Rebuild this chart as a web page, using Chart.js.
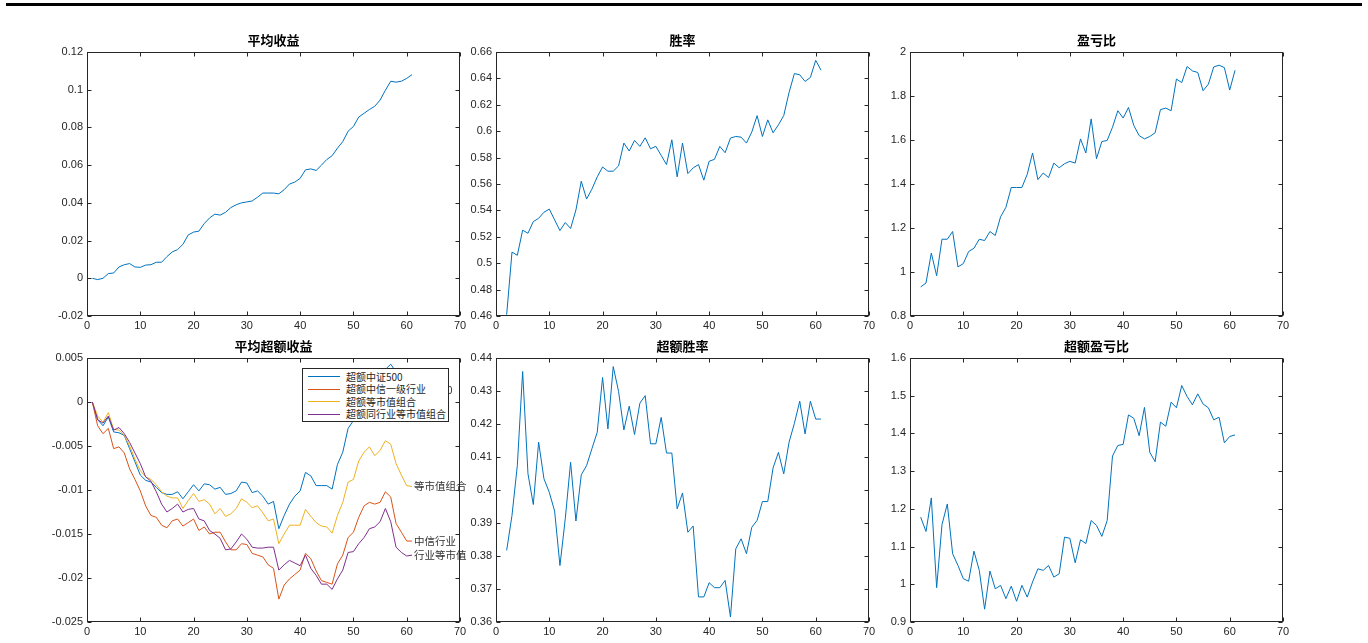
<!DOCTYPE html>
<html>
<head>
<meta charset="utf-8">
<script src="https://cdn.jsdelivr.net/npm/chart.js@4.4.1/dist/chart.umd.min.js"></script>
<style>
html,body{margin:0;padding:0;background:#fff;width:1368px;height:643px;overflow:hidden;position:relative}
canvas{position:absolute}
#topline{position:absolute;left:6px;top:3px;width:1356px;height:3px;background:#000}
#legend{position:absolute;left:302px;top:368px;width:145px;height:52px;border:1px solid #262626;background:#fff;font-family:"Noto Sans CJK SC","Liberation Sans",sans-serif;color:#262626}
#legend .ln{position:absolute;left:5px;width:32px;height:1px}
#legend .tx{position:absolute;left:43px;font-size:10px;line-height:14px;white-space:nowrap}
</style>
</head>
<body>
<div id="topline"></div>
<canvas id="c1" width="483" height="314" style="left:32px;top:24px"></canvas>
<canvas id="c2" width="483" height="314" style="left:441px;top:24px"></canvas>
<canvas id="c3" width="483" height="314" style="left:855px;top:24px"></canvas>
<canvas id="c4" width="483" height="314" style="left:32px;top:330px"></canvas>
<canvas id="c5" width="483" height="314" style="left:441px;top:330px"></canvas>
<canvas id="c6" width="483" height="314" style="left:855px;top:330px"></canvas>
<div id="legend"></div>
<script>
// ---------------- data ----------------
const periods = [1,2,3,4,5,6,7,8,9,10,11,12,13,14,15,16,17,18,19,20,21,22,23,24,25,26,27,28,29,30,
  31,32,33,34,35,36,37,38,39,40,41,42,43,44,45,46,47,48,49,50,51,52,53,54,55,56,57,58,59,60,61];
const periods2 = periods.slice(1);

const titles = ['平均收益','胜率','盈亏比','平均超额收益','超额胜率','超额盈亏比'];

const avgReturn = [0,-0.0007,0,0.0025,0.0028,0.006,0.0072,0.0078,0.006,0.0058,
  0.007,0.0072,0.0085,0.0085,0.0115,0.014,0.0152,0.018,0.023,0.0245,
  0.025,0.029,0.032,0.034,0.0335,0.035,0.0375,0.039,0.04,0.0405,
  0.041,0.043,0.0452,0.0452,0.0452,0.0448,0.047,0.05,0.051,0.053,
  0.0575,0.058,0.0572,0.06,0.063,0.065,0.069,0.0725,0.078,0.0805,
  0.0855,0.0875,0.0895,0.0912,0.0945,0.0997,0.1045,0.104,0.1045,0.106,
  0.108];

const winRate = [0.461,0.5084,0.506,0.525,0.5227,0.5315,0.534,0.5386,0.541,0.5328,
  0.5247,0.5308,0.5263,0.5403,0.5621,0.5486,0.5561,0.5654,0.5729,0.5697,
  0.5697,0.5737,0.591,0.585,0.593,0.5885,0.595,0.5867,0.5885,0.5817,
  0.5747,0.5935,0.5654,0.591,0.5679,0.5722,0.5747,0.5629,0.5772,0.5787,
  0.5885,0.5837,0.5948,0.596,0.5955,0.591,0.5993,0.6118,0.596,0.6086,
  0.5988,0.6048,0.6118,0.6294,0.6437,0.6427,0.6377,0.6407,0.6537,0.6462];

const plRatio = [0.932,0.95,1.086,0.983,1.149,1.149,1.184,1.023,1.038,1.093,
  1.108,1.149,1.143,1.184,1.166,1.251,1.294,1.384,1.384,1.384,
  1.444,1.541,1.42,1.45,1.429,1.495,1.474,1.492,1.503,1.495,
  1.605,1.541,1.696,1.515,1.593,1.598,1.658,1.733,1.7,1.748,
  1.666,1.62,1.605,1.616,1.633,1.738,1.745,1.733,1.877,1.861,
  1.934,1.914,1.907,1.824,1.854,1.932,1.94,1.929,1.827,1.917];

const exWinRate = [0.3817,0.3923,0.4074,0.4359,0.4049,0.3956,0.4145,0.4034,0.3993,0.3936,
  0.3771,0.3913,0.4084,0.3906,0.4046,0.4074,0.4125,0.4175,0.4341,0.4185,
  0.4374,0.4299,0.4182,0.4254,0.4168,0.4263,0.4286,0.414,0.414,0.422,
  0.4112,0.4112,0.3943,0.3991,0.3872,0.3891,0.3676,0.3676,0.3719,0.3704,
  0.3704,0.3726,0.3615,0.3822,0.3852,0.3807,0.3887,0.3908,0.3965,0.3965,
  0.4067,0.4114,0.4049,0.4145,0.4202,0.4269,0.417,0.4269,0.4215,0.4215];

const exPlRatio = [1.178,1.14,1.229,0.991,1.158,1.213,1.081,1.05,1.015,1.008,
  1.088,1.037,0.934,1.035,0.988,0.997,0.962,0.995,0.955,0.997,
  0.966,1.006,1.041,1.037,1.05,1.019,1.028,1.125,1.122,1.057,
  1.118,1.108,1.169,1.156,1.127,1.169,1.34,1.368,1.371,1.449,
  1.44,1.394,1.469,1.35,1.325,1.43,1.419,1.483,1.468,1.527,
  1.498,1.476,1.505,1.478,1.468,1.436,1.443,1.375,1.392,1.396];

const exCsi500 = [0,-0.002,-0.0027,-0.0017,-0.0034,-0.0035,-0.0038,-0.0053,-0.0068,-0.0083,
  -0.0089,-0.0091,-0.0097,-0.0103,-0.0105,-0.0105,-0.0102,-0.011,-0.0102,-0.0094,
  -0.0101,-0.0093,-0.0094,-0.0099,-0.0097,-0.0105,-0.0104,-0.0101,-0.0091,-0.0092,
  -0.0103,-0.0101,-0.0107,-0.0116,-0.0113,-0.0144,-0.0129,-0.0116,-0.0107,-0.0101,
  -0.008,-0.0084,-0.0095,-0.0095,-0.0095,-0.0099,-0.0071,-0.0057,-0.003,-0.0021,
  -0.001,0.0002,0.0012,0.0018,0.0027,0.0037,0.0043,0.0034,0.0024,0.0017,
  0.0014];
const exCiticInd = [0,-0.0027,-0.0036,-0.003,-0.0053,-0.0051,-0.0058,-0.0076,-0.0088,-0.0101,
  -0.0118,-0.0129,-0.0131,-0.014,-0.0143,-0.0135,-0.0133,-0.0141,-0.0137,-0.0133,
  -0.0146,-0.0142,-0.015,-0.0148,-0.0148,-0.0159,-0.0168,-0.0168,-0.0161,-0.0162,
  -0.0172,-0.0174,-0.0176,-0.0185,-0.0189,-0.0224,-0.0208,-0.0201,-0.0196,-0.0191,
  -0.0172,-0.0178,-0.0192,-0.0203,-0.0205,-0.0207,-0.0184,-0.0174,-0.0154,-0.0148,
  -0.0131,-0.0118,-0.0114,-0.0116,-0.0114,-0.0102,-0.0108,-0.0138,-0.0148,-0.0158,
  -0.0158];
const exEqualCap = [0,-0.0016,-0.0023,-0.0012,-0.0031,-0.0032,-0.0038,-0.005,-0.0065,-0.0078,
  -0.0085,-0.0088,-0.0094,-0.0102,-0.0107,-0.0109,-0.0109,-0.0121,-0.0112,-0.0104,
  -0.0113,-0.0111,-0.0116,-0.0127,-0.0121,-0.013,-0.0127,-0.0121,-0.011,-0.0114,
  -0.012,-0.0118,-0.0126,-0.0135,-0.0133,-0.0161,-0.015,-0.014,-0.014,-0.014,
  -0.0122,-0.013,-0.0137,-0.0141,-0.0142,-0.0149,-0.0129,-0.0114,-0.0091,-0.0088,
  -0.0067,-0.0057,-0.0051,-0.0061,-0.0055,-0.0044,-0.0048,-0.007,-0.0083,-0.0095,
  -0.0096];
const exIndEqualCap = [0,-0.002,-0.0024,-0.0016,-0.0032,-0.0029,-0.0036,-0.0046,-0.0058,-0.007,
  -0.0085,-0.009,-0.0102,-0.0116,-0.0125,-0.0121,-0.0116,-0.0125,-0.0122,-0.0121,
  -0.0133,-0.0135,-0.0146,-0.015,-0.0155,-0.0168,-0.0167,-0.0159,-0.015,-0.0156,
  -0.0165,-0.0166,-0.0166,-0.0165,-0.0165,-0.0191,-0.0185,-0.018,-0.0183,-0.0186,
  -0.0174,-0.0189,-0.0197,-0.0207,-0.0207,-0.0213,-0.0201,-0.0191,-0.0171,-0.017,
  -0.0161,-0.0154,-0.0144,-0.0142,-0.0136,-0.0121,-0.0136,-0.0165,-0.0171,-0.0175,
  -0.0174];

const excessNames = ['超额中证500','超额中信一级行业','超额等市值组合','超额同行业等市值组合'];
const endLabelTexts = ['中证500','中信行业','等市值组合','行业等市值'];
const colors = ['#0072BD','#D95319','#EDB120','#7E2F8E'];

// ---------------- drawing ----------------
const TICK_COLOR = '#262626';
const TICK_FONT = {family:'"Liberation Sans", Arial, sans-serif', size:11};
const CJK = '"Noto Sans CJK SC", sans-serif';

const boxPlugin = {
  id:'matlabBox',
  afterDraw(chart){
    const ctx = chart.ctx, a = chart.chartArea, xs = chart.scales.x, ys = chart.scales.y;
    ctx.save();
    ctx.strokeStyle = TICK_COLOR; ctx.lineWidth = 1;
    const L = Math.round(a.left)+0.5, R = Math.round(a.right)-0.5, T = Math.round(a.top)+0.5, B = Math.round(a.bottom)-0.5;
    ctx.strokeRect(L, T, R-L, B-T);
    ctx.beginPath();
    xs.ticks.forEach(t => { const p = Math.round(xs.getPixelForValue(t.value))+0.5;
      ctx.moveTo(p,B); ctx.lineTo(p,B-4); ctx.moveTo(p,T); ctx.lineTo(p,T+4); });
    ys.ticks.forEach(t => { const p = Math.round(ys.getPixelForValue(t.value))+0.5;
      ctx.moveTo(L,p); ctx.lineTo(L+4,p); ctx.moveTo(R,p); ctx.lineTo(R-4,p); });
    ctx.stroke();
    ctx.restore();
  }
};

const endLabelPlugin = {
  id:'endLabels',
  afterDatasetsDraw(chart){
    const ctx = chart.ctx, xs = chart.scales.x, ys = chart.scales.y;
    ctx.save();
    ctx.font = '10.5px ' + CJK;
    ctx.fillStyle = '#333333';
    ctx.textBaseline = 'middle'; ctx.textAlign = 'left';
    chart.data.datasets.forEach((ds, i) => {
      const last = ds.data[ds.data.length-1];
      ctx.fillText(endLabelTexts[i], xs.getPixelForValue(last.x)+2, ys.getPixelForValue(last.y));
    });
    ctx.restore();
  }
};

function fmt(v){ return String(Math.round(v*1e6)/1e6); }

function makeChart(id, title, xs, series, yMin, yMax, yStep, extra){
  return new Chart(document.getElementById(id), {
    type:'line',
    data:{
      datasets: series.map((s,i) => ({
        label: s.label,
        data: xs.map((x,j) => ({x:x, y:s.values[j]})),
        borderColor: s.color, borderWidth: 1, pointRadius: 0, tension: 0, fill: false,
        order: series.length - i
      }))
    },
    options:{
      responsive:false, animation:false, devicePixelRatio:1,
      layout:{padding:{left:0,right:55,top:0,bottom:0}},
      plugins:{
        legend:{display:false}, tooltip:{enabled:false},
        title:{display:true, text:title, fullSize:false, color:'#000',
          font:{family:CJK, size:13, weight:'bold'}, padding:{top:8.2,bottom:4.2}}
      },
      scales:{
        x:{type:'linear', min:0, max:70,
          ticks:{stepSize:10, color:TICK_COLOR, font:TICK_FONT, padding:3, maxRotation:0, autoSkip:false, callback:fmt},
          grid:{display:false, drawTicks:false}, border:{display:false},
          afterFit(s){ s.height = 22; }},
        y:{type:'linear', min:yMin, max:yMax,
          ticks:{stepSize:yStep, color:TICK_COLOR, font:TICK_FONT, padding:4, autoSkip:false, callback:fmt},
          grid:{display:false, drawTicks:false}, border:{display:false},
          afterFit(s){ s.width = 55; }}
      }
    },
    plugins:[boxPlugin].concat(extra || [])
  });
}

makeChart('c1', titles[0], periods, [{label:titles[0], values:avgReturn, color:colors[0]}], -0.02, 0.12, 0.02);
makeChart('c2', titles[1], periods2, [{label:titles[1], values:winRate, color:colors[0]}], 0.46, 0.66, 0.02);
makeChart('c3', titles[2], periods2, [{label:titles[2], values:plRatio, color:colors[0]}], 0.8, 2, 0.2);
makeChart('c4', titles[3], periods, [
  {label:excessNames[0], values:exCsi500, color:colors[0]},
  {label:excessNames[1], values:exCiticInd, color:colors[1]},
  {label:excessNames[2], values:exEqualCap, color:colors[2]},
  {label:excessNames[3], values:exIndEqualCap, color:colors[3]}
], -0.025, 0.005, 0.005, [endLabelPlugin]);
makeChart('c5', titles[4], periods2, [{label:titles[4], values:exWinRate, color:colors[0]}], 0.36, 0.44, 0.01);
makeChart('c6', titles[5], periods2, [{label:titles[5], values:exPlRatio, color:colors[0]}], 0.9, 1.6, 0.1);

// legend (HTML, inside the 平均超额收益 axes)
const legend = document.getElementById('legend');
const rowY = [7.7, 20.3, 32.7, 45.3];
excessNames.forEach((name, i) => {
  const ln = document.createElement('span');
  ln.className = 'ln'; ln.style.top = (rowY[i]-0.5) + 'px'; ln.style.background = colors[i];
  const tx = document.createElement('span');
  tx.className = 'tx'; tx.style.top = (rowY[i]-7) + 'px'; tx.textContent = name;
  legend.appendChild(ln); legend.appendChild(tx);
});
</script>
</body>
</html>
